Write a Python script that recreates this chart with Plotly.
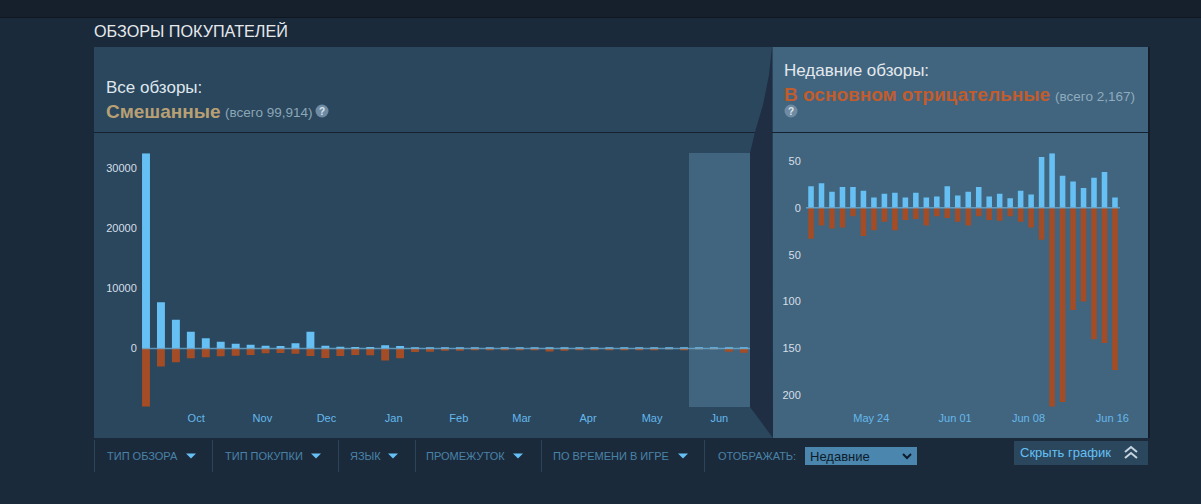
import plotly.graph_objects as go
import pandas as pd

W, H = 1201, 504

# ---- data: all-time weekly reviews
all_dates = pd.date_range("2019-09-08", periods=41, freq="7D")
all_up = [32500, 7700, 4800, 2800, 1700, 1100, 800, 600, 450, 400, 850, 2800, 450, 300, 250, 250, 550, 400,
          120, 100, 110, 100, 90, 100, 80, 90, 90, 110, 90, 80, 70, 80, 70, 70, 80, 70, 90, 60, 50, 60, 80]
all_down = [-9700, -3000, -2300, -1650, -1450, -1300, -1200, -1100, -800, -750, -900, -1250, -1600, -1250,
            -1100, -1150, -2000, -1650, -600, -550, -400, -400, -250, -300, -200, -300, -300, -500, -400,
            -300, -150, -250, -200, -150, -200, -100, -200, -100, -80, -550, -700]
all_tick_dates = ["2019-10-01 12:00", "2019-11-01 12:00", "2019-12-01 12:00", "2020-01-02", "2020-02-01 12:00",
                  "2020-03-02", "2020-04-02", "2020-05-02", "2020-06-02 12:00"]
all_tick_text = ["Oct", "Nov", "Dec", "Jan", "Feb", "Mar", "Apr", "May", "Jun"]
all_y_ticks = [0, 10000, 20000, 30000]

# ---- data: recent daily reviews
recent_dates = pd.date_range("2020-05-18", periods=30, freq="D")
recent_up = [23, 26, 17, 22, 22, 18, 11, 15, 16, 11, 16, 11, 12, 23, 13, 17, 22, 12, 15, 10,
             18, 14, 54, 58, 34, 28, 21, 32, 38, 11]
recent_down = [-33, -19, -22, -21, -9, -30, -24, -15, -24, -13, -12, -19, -9, -11, -15, -19, -9, -13, -14, -9,
               -15, -21, -34, -212, -207, -109, -100, -140, -144, -173]
recent_tick_dates = ["2020-05-23 18:00", "2020-05-31 18:00", "2020-06-07 18:00", "2020-06-15 18:00"]
recent_tick_text = ["May 24", "Jun 01", "Jun 08", "Jun 16"]
recent_y_ticks = [50, 0, -50, -100, -150, -200]
recent_y_text = ["50", "0", "50", "100", "150", "200"]

filters = ["ТИП ОБЗОРА", "ТИП ПОКУПКИ", "ЯЗЫК", "ПРОМЕЖУТОК", "ПО ВРЕМЕНИ В ИГРЕ"]

# ---- colours
BLUE, RUST = "#66c0f4", "#a34c25"
FONT = "Liberation Sans, Arial, sans-serif"


def px(x):
    return x / W


def py(y):
    return 1 - y / H


shapes = []


def rect(x0, y0, x1, y1, fill, layer="below"):
    shapes.append(dict(type="rect", xref="paper", yref="paper", x0=px(x0), x1=px(x1), y0=py(y0), y1=py(y1),
                       fillcolor=fill, line=dict(width=0), layer=layer))


def poly(points, fill=None, line=None, width=0, close=True, layer="above"):
    path = "M " + " L ".join(f"{px(a):.5f},{py(b):.5f}" for a, b in points) + (" Z" if close else "")
    shapes.append(dict(type="path", xref="paper", yref="paper", path=path, fillcolor=fill,
                       line=dict(color=line, width=width), layer=layer))


annots = []


def text(x, y, s, size, color, bold=False, anchor="left", family=FONT):
    xpos = x - 1 if anchor == "left" else x
    annots.append(dict(xref="paper", yref="paper", x=px(xpos), y=py(y), text=f"<b>{s}</b>" if bold else s,
                       showarrow=False, xanchor=anchor, yanchor="middle", borderpad=0,
                       font=dict(size=size, color=color, family=family)))


# page
rect(0, 0, W, 17, "#16202d")
rect(0, 17, W, 18, "#0e1620")
rect(0, 18, W, H, "#1b2a3b")

# panels
rect(94, 47, 773, 438, "#2a475e")
rect(773, 47, 1148, 438, "#41657f")
rect(94, 132, 773, 133, "#14212f")
rect(773, 132, 1148, 133, "#14212f")
rect(1148, 47, 1150, 438, "#131d29")
rect(689, 153, 750, 407, "#41657f")
poly([(772, 47), (769, 75), (763, 105), (755, 132), (750, 153), (750, 407), (773, 438)], fill="#1f2e42", layer="below")

# filter bar
for sx in [94, 212, 338, 415, 541, 704]:
    rect(sx, 440, sx + 1, 472, "#2c435a")
for sx, s in zip([107, 225, 350, 426, 553], filters):
    text(sx, 456, s, 11, "#4a83a8")
for ax in [191, 316, 393, 518, 683]:
    poly([(ax - 5, 453.5), (ax + 5, 453.5), (ax, 458.5)], fill="#66c0f4")
text(718, 456, "ОТОБРАЖАТЬ:", 11, "#4a83a8")
rect(805, 447, 917, 465, "#4a86ae")
text(810, 456, "Недавние", 13, "#0e1c2b", family="Liberation Sans, Arial")
poly([(903, 454), (907, 458), (911, 454)], line="#0e1c2b", width=2, close=False)
rect(1014, 441, 1148, 465, "#2a475e")
text(1020, 452, "Скрыть график", 13, "#66c0f4")
poly([(1125, 452), (1131, 447), (1137, 452)], line="#c6d4df", width=2, close=False)
poly([(1125, 458), (1131, 453), (1137, 458)], line="#c6d4df", width=2, close=False)

# headers
text(94, 31, "ОБЗОРЫ ПОКУПАТЕЛЕЙ", 16.2, "#e5e9ec")
text(106, 87, "Все обзоры:", 17, "#dfe6ec")
text(106, 111, "Смешанные", 19, "#b9a074", bold=True)
text(225, 113, "(всего 99,914)", 13.5, "#8ba6b6")
text(784, 71, "Недавние обзоры:", 17, "#e3e9ee")
text(784, 94, "В основном отрицательные", 19, "#c35c2c", bold=True)
text(1055, 96, "(всего 2,167)", 13.5, "#8fabbd")
for cx, cy in [(322, 111), (791, 111)]:
    shapes.append(dict(type="circle", xref="paper", yref="paper", x0=px(cx - 6.5), x1=px(cx + 6.5),
                       y0=py(cy - 6.5), y1=py(cy + 6.5), fillcolor="#6f8ba3", line=dict(width=0), layer="below"))
    text(cx, cy, "?", 10, "#dbe4ea", bold=True, anchor="center")

# zero lines above bars
for ax_y, x0, x1 in [("y", 142, 750), ("y2", 806, 1120)]:
    shapes.append(dict(type="line", xref="paper", yref=ax_y, x0=px(x0), x1=px(x1), y0=0, y1=0,
                       line=dict(color="rgba(110,175,215,0.75)", width=1.5), layer="above"))

fig = go.Figure()
fig.add_bar(x=all_dates, y=all_up, marker_color=BLUE, marker_line_width=0, xaxis="x", yaxis="y")
fig.add_bar(x=all_dates, y=all_down, marker_color=RUST, marker_line_width=0, xaxis="x", yaxis="y")
fig.add_bar(x=recent_dates, y=recent_up, marker_color=BLUE, marker_line_width=0, xaxis="x2", yaxis="y2")
fig.add_bar(x=recent_dates, y=recent_down, marker_color=RUST, marker_line_width=0, xaxis="x2", yaxis="y2")
fig.update_traces(hoverinfo="skip")

xtick = dict(color="#66b8ec", size=11, family=FONT)
ytick = dict(color="#d5dfe8", size=11, family=FONT)
common = dict(showgrid=False, zeroline=False, showline=False, ticks="outside",
              tickcolor="rgba(0,0,0,0)", automargin=False)
ydom = [py(406.7), py(153.3)]

fig.update_layout(
    width=W, height=H, margin=dict(l=0, r=0, t=0, b=0, pad=0), autosize=False,
    paper_bgcolor="#1b2a3b", plot_bgcolor="rgba(0,0,0,0)", showlegend=False,
    barmode="relative", bargap=0.47,
    shapes=shapes, annotations=annots,
    xaxis=dict(domain=[px(142), px(750)], type="date", range=["2019-09-06 03:00", "2020-06-16 21:00"], ticklen=1,
               tickmode="array", tickvals=all_tick_dates, ticktext=all_tick_text, tickfont=xtick, anchor="y", **common),
    yaxis=dict(domain=ydom, range=[-9700, 32500], tickmode="array", tickvals=all_y_ticks, ticklen=2,
               ticktext=[str(v) for v in all_y_ticks], tickfont=ytick, anchor="x", **common),
    xaxis2=dict(domain=[px(806), px(1120)], type="date", range=["2020-05-17 12:28", "2020-06-16 11:31"], ticklen=1,
                tickmode="array", tickvals=recent_tick_dates, ticktext=recent_tick_text, tickfont=xtick, anchor="y2", **common),
    yaxis2=dict(domain=ydom, range=[-212, 58], tickmode="array", tickvals=recent_y_ticks, ticklen=2,
                ticktext=recent_y_text, tickfont=ytick, anchor="x2", **common),
)

fig.write_html("out.html", config=dict(displayModeBar=False),
               post_script="document.body.style.margin='0';document.body.style.overflow='hidden';")
